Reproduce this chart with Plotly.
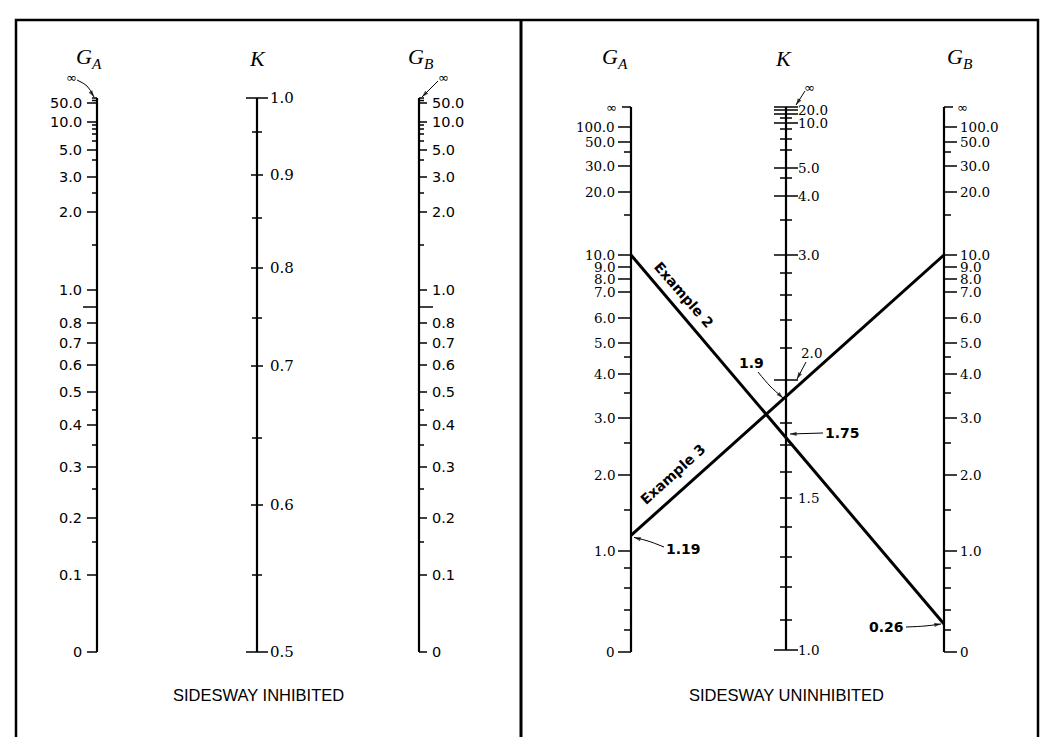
import numpy as np
import plotly.graph_objects as go

W, H = 1049, 737
PAGE_OFFSET = 8  # default body margin of the html page

# ---------------- scale calibrations: value -> printed position on the nomograph -------------
# Sidesway inhibited, G scale (shared by G_A and G_B)
G_INH_CAL_V = [0.0, 0.1, 0.15, 0.2, 0.25, 0.3, 0.35, 0.4, 0.45, 0.5, 0.6, 0.7, 0.8, 0.9, 1.0,
               1.5, 2.0, 2.5, 3.0, 4.0, 5.0, 6.0, 7.0, 8.0, 9.0, 10.0, 50.0, 100.0, 1e9]
G_INH_CAL_P = [652, 575, 542, 518, 489, 467, 445, 425, 410, 392, 365, 343, 323, 307, 290,
               245, 212, 193, 177, 160, 150, 141, 134, 129, 125, 122, 103, 100.5, 98]
# Sidesway inhibited, K scale
K_INH_CAL_V = [0.5, 0.55, 0.6, 0.65, 0.7, 0.75, 0.8, 0.85, 0.9, 0.95, 1.0]
K_INH_CAL_P = [652, 575, 505, 438, 366, 318, 268, 218, 175, 132, 98]
# Sidesway uninhibited, G scale (shared by G_A and G_B)
G_UNI_CAL_V = [0.0, 0.2, 0.4, 0.6, 0.8, 1.0, 1.5, 2.0, 2.5, 3.0, 3.5, 4.0, 4.5, 5.0, 6.0, 7.0,
               8.0, 9.0, 10.0, 15.0, 20.0, 30.0, 40.0, 50.0, 100.0, 1e9]
G_UNI_CAL_P = [652, 630, 610, 588, 568, 551, 510, 475, 443, 418, 393, 374, 357, 343, 318, 292,
               279, 267, 255, 215, 192, 166, 152, 142, 127, 107]
# Sidesway uninhibited, K scale
K_UNI_CAL_V = [1.0, 1.1, 1.2, 1.3, 1.4, 1.5, 1.6, 1.7, 1.8, 1.9, 2.0, 2.2, 2.4, 2.6, 2.8, 3.0,
               3.5, 4.0, 4.5, 5.0, 6.0, 7.0, 8.0, 10.0, 12.0, 15.0, 20.0, 1e9]
K_UNI_CAL_P = [650, 620, 587, 557, 527, 498, 472, 445, 423, 401, 380, 348, 320, 295, 273, 255,
               220, 196, 178, 168, 150, 139, 129, 123, 118, 114, 110, 107]

INF = 1e9

# ---------------- tick values and labels ----------------
G_INH_LABEL_VALUES = [50.0, 10.0, 5.0, 3.0, 2.0, 1.0, 0.8, 0.7, 0.6, 0.5, 0.4, 0.3, 0.2, 0.1, 0.0]
G_INH_LABELS = ["50.0", "10.0", "5.0", "3.0", "2.0", "1.0", "0.8", "0.7", "0.6", "0.5",
                "0.4", "0.3", "0.2", "0.1", "0"]
G_INH_MINOR = [INF, 100.0, 9.0, 8.0, 7.0, 6.0, 4.0, 2.5, 1.5, 0.45, 0.35, 0.25, 0.15]
G_INH_LONG = [0.9]

K_INH_LABEL_VALUES = [1.0, 0.9, 0.8, 0.7, 0.6, 0.5]
K_INH_LABELS = ["1.0", "0.9", "0.8", "0.7", "0.6", "0.5"]
K_INH_MINOR = [0.95, 0.85, 0.75, 0.65, 0.55]

G_UNI_LABEL_VALUES = [100.0, 50.0, 30.0, 20.0, 10.0, 9.0, 8.0, 7.0, 6.0, 5.0, 4.0, 3.0, 2.0, 1.0, 0.0]
G_UNI_LABELS = ["100.0", "50.0", "30.0", "20.0", "10.0", "9.0", "8.0", "7.0", "6.0", "5.0",
                "4.0", "3.0", "2.0", "1.0", "0"]
G_UNI_MINOR = [40.0, 15.0, 4.5, 3.5, 2.5, 1.5, 0.8, 0.6, 0.4, 0.2]

K_UNI_LABEL_VALUES = [20.0, 10.0, 5.0, 4.0, 3.0, 1.5, 1.0]
K_UNI_LABELS = ["20.0", "10.0", "5.0", "4.0", "3.0", "1.5", "1.0"]
K_UNI_LONG = [INF, 20.0, 15.0, 10.0, 5.0, 4.0, 3.0, 2.0, 1.0]
K_UNI_MINOR = [12.0, 8.0, 7.0, 6.0, 4.5, 3.5, 2.8, 2.6, 2.4, 2.2, 1.8, 1.7, 1.6, 1.5, 1.4, 1.3, 1.2, 1.1]

# worked examples (sidesway uninhibited)
EX2 = {"GA": 10.0, "GB": 0.26, "K": 1.75}
EX3 = {"GA": 1.19, "GB": 10.0, "K": 1.9}


def scale(cal_v, cal_p):
    v = np.array(cal_v, float)
    p = np.array(cal_p, float)
    return lambda x: float(np.interp(x, v, p))


g_inh = scale(G_INH_CAL_V, G_INH_CAL_P)
k_inh = scale(K_INH_CAL_V, K_INH_CAL_P)
g_uni = scale(G_UNI_CAL_V, G_UNI_CAL_P)
k_uni = scale(K_UNI_CAL_V, K_UNI_CAL_P)

# axis x-positions (layout)
X_GA_L, X_K_L, X_GB_L = 97, 257, 419
X_GA_R, X_K_R, X_GB_R = 631, 786, 944

SANS = "Liberation Sans, Arial, sans-serif"
NUMFONT_L = dict(family="DejaVu Sans, sans-serif", size=14.5, color="black")
NUMFONT_K = dict(family="DejaVu Serif, serif", size=15, color="black")
NUMFONT_R = dict(family="DejaVu Serif, serif", size=13.5, color="black")
xs_thick, ys_thick = [], []
xs_thin, ys_thin = [], []
annotations = []


def seg(x0, y0, x1, y1, thick=False):
    (xs_thick if thick else xs_thin).extend([x0, x1, None])
    (ys_thick if thick else ys_thin).extend([y0, y1, None])


def label(x, y, text, anchor, font, angle=0):
    annotations.append(dict(x=x, y=y, xref="x", yref="y", text=text, showarrow=False,
                            xanchor=anchor, yanchor="middle", font=font, borderpad=0,
                            textangle=angle))


def g_axis(x, sc, label_vals, labels, minor, long_vals, side, lab_len, min_len, lab_off, font):
    top, bot = sc(INF), sc(0.0)
    seg(x, top, x, bot, thick=True)
    for v, t in zip(label_vals, labels):
        y = sc(v)
        seg(x, y, x + side * lab_len, y)
        label(x + side * lab_off, y, t, "right" if side < 0 else "left", font)
    for v in minor:
        y = sc(v)
        seg(x, y, x + side * min_len, y)
    for v in long_vals:
        y = sc(v)
        seg(x, y, x + side * 14, y)


# ---------------- left panel: sidesway inhibited ----------------
g_axis(X_GA_L, g_inh, G_INH_LABEL_VALUES, G_INH_LABELS, G_INH_MINOR, G_INH_LONG, -1, 10, 5, 14, NUMFONT_L)
g_axis(X_GB_L, g_inh, G_INH_LABEL_VALUES, G_INH_LABELS, G_INH_MINOR, G_INH_LONG, 1, 8, 5, 12, NUMFONT_L)

seg(X_K_L, k_inh(1.0), X_K_L, k_inh(0.5), thick=True)
for v, t in zip(K_INH_LABEL_VALUES, K_INH_LABELS):
    y = k_inh(v)
    half = 11 if v in (1.0, 0.5) else 6
    seg(X_K_L - half, y, X_K_L + half, y)
    label(X_K_L + 12, y, t, "left", NUMFONT_K)
for v in K_INH_MINOR:
    y = k_inh(v)
    seg(X_K_L - 5, y, X_K_L + 5, y)

# ---------------- right panel: sidesway uninhibited ----------------
g_axis(X_GA_R, g_uni, G_UNI_LABEL_VALUES, G_UNI_LABELS, G_UNI_MINOR, [], -1, 13, 7, 15, NUMFONT_R)
g_axis(X_GB_R, g_uni, G_UNI_LABEL_VALUES, G_UNI_LABELS, G_UNI_MINOR, [], 1, 13, 7, 15, NUMFONT_R)
seg(X_GA_R, g_uni(INF), X_GA_R - 9, g_uni(INF))
seg(X_GB_R, g_uni(INF), X_GB_R + 9, g_uni(INF))

seg(X_K_R, k_uni(INF), X_K_R, k_uni(1.0), thick=True)
for v in K_UNI_LONG:
    y = k_uni(v)
    seg(X_K_R - 12, y, X_K_R + 12, y)
for v in K_UNI_MINOR:
    y = k_uni(v)
    seg(X_K_R - 6, y, X_K_R + 6, y)
for v, t in zip(K_UNI_LABEL_VALUES, K_UNI_LABELS):
    y = k_uni(v)
    label(X_K_R + 11, y, t, "left", NUMFONT_R)

fig = go.Figure()
fig.add_trace(go.Scatter(x=xs_thin, y=ys_thin, mode="lines", line=dict(color="black", width=1.5),
                         hoverinfo="skip", showlegend=False))
fig.add_trace(go.Scatter(x=xs_thick, y=ys_thick, mode="lines", line=dict(color="black", width=2.2),
                         hoverinfo="skip", showlegend=False))

# example lines
for ex in (EX2, EX3):
    fig.add_trace(go.Scatter(x=[X_GA_R, X_GB_R], y=[g_uni(ex["GA"]), g_uni(ex["GB"])], mode="lines",
                             line=dict(color="black", width=3), hoverinfo="skip", showlegend=False))


# leader arrows (shaft + arrowhead marker oriented along the shaft)
def leader(pts):
    xs = [p[0] for p in pts]
    ys = [p[1] for p in pts]
    fig.add_trace(go.Scatter(
        x=xs, y=ys, mode="lines+markers", line=dict(color="black", width=1, shape="spline"),
        marker=dict(symbol=["circle"] * (len(pts) - 1) + ["arrow"], size=[0] * (len(pts) - 1) + [7],
                    angleref="previous", color="black", line=dict(width=0)),
        hoverinfo="skip", showlegend=False))


IFONT = dict(family="DejaVu Sans, sans-serif", size=13, color="black")
BFONT = dict(family="DejaVu Sans, sans-serif", size=14, color="black")
BOLD = lambda s: "<b>" + s + "</b>"

# infinity markers
label(71, 77, "∞", "center", IFONT)
leader([(77, 80), (87, 86), (94, g_inh(INF) - 1)])
label(443, 77, "∞", "center", IFONT)
leader([(438, 81), (422, g_inh(INF) - 1)])
label(809, 87, "∞", "center", IFONT)
leader([(805, 91), (796, k_uni(INF) - 2)])
label(X_GA_R - 13, g_uni(INF), "∞", "right", IFONT)
label(X_GB_R + 12, g_uni(INF), "∞", "left", IFONT)

# K = 2.0 label with pointer
label(811, 353, "2.0", "center", NUMFONT_R)
leader([(806, 362), (797, k_uni(2.0) - 1)])

# example value call-outs
label(751, 363, BOLD("1.9"), "center", BFONT)
leader([(758, 372), (770, 386), (X_K_R - 3, k_uni(EX3["K"]) - 3)])
label(842, 433, BOLD("1.75"), "center", BFONT)
leader([(823, 433), (X_K_R + 4, k_uni(EX2["K"]))])
label(683, 549, BOLD("1.19"), "center", BFONT)
leader([(664, 547), (648, 541), (X_GA_R + 3, g_uni(EX3["GA"]) + 2)])
label(886, 627, BOLD("0.26"), "center", BFONT)
leader([(906, 627), (925, 626), (X_GB_R - 3, g_uni(EX2["GB"]))])

label(684, 295, BOLD("Example 2"), "center", BFONT, angle=49)
label(673, 474, BOLD("Example 3"), "center", BFONT, angle=-42)

# ---------------- titles ----------------
TFONT = dict(family="Liberation Serif, Times New Roman, serif", size=22, color="black")
for x, t in [(X_GA_L - 8, "<i>G<sub>A</sub></i>"), (X_K_L, "<i>K</i>"), (X_GB_L + 2, "<i>G<sub>B</sub></i>"),
             (X_GA_R - 16, "<i>G<sub>A</sub></i>"), (X_K_R - 3, "<i>K</i>"), (X_GB_R + 16, "<i>G<sub>B</sub></i>")]:
    label(x, 58, t, "center", TFONT)

CFONT = dict(family=SANS, size=16.5, color="black")
label(258, 695, "SIDESWAY INHIBITED", "center", CFONT)
label(786, 695, "SIDESWAY UNINHIBITED", "center", CFONT)

# ---------------- frame ----------------
shapes = [
    dict(type="rect", xref="x", yref="y", x0=16, x1=1038, y0=20, y1=790, line=dict(color="black", width=2.5)),
    dict(type="line", xref="x", yref="y", x0=521, x1=521, y0=20, y1=790, line=dict(color="black", width=3)),
]

fig.update_layout(
    width=W, height=H, margin=dict(l=0, r=0, t=0, b=0),
    paper_bgcolor="white", plot_bgcolor="white",
    xaxis=dict(range=[PAGE_OFFSET, W + PAGE_OFFSET], visible=False, fixedrange=True),
    yaxis=dict(range=[H + PAGE_OFFSET, PAGE_OFFSET], visible=False, fixedrange=True),
    annotations=annotations, shapes=shapes, showlegend=False,
)
fig.write_html("out.html")
